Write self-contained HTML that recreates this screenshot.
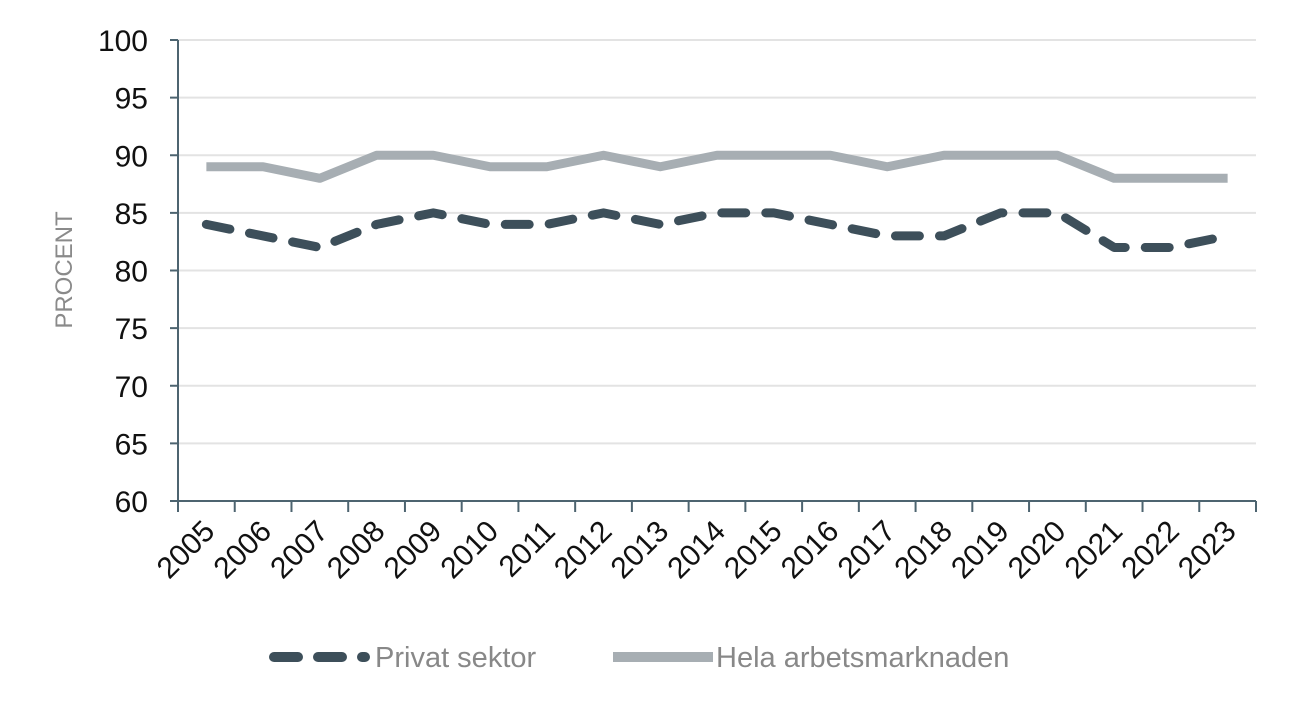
<!DOCTYPE html>
<html><head><meta charset="utf-8"><style>
body{margin:0;background:#fff;}
svg{display:block;font-family:"Liberation Sans",sans-serif;}
</style></head><body>
<svg id="chart" width="1296" height="708"></svg>
<script>
const years=["2005","2006","2007","2008","2009","2010","2011","2012","2013","2014","2015","2016","2017","2018","2019","2020","2021","2022","2023"];
const privat=[84,83,82,84,85,84,84,85,84,85,85,84,83,83,85,85,82,82,83];
const hela=[89,89,88,90,90,89,89,90,89,90,90,90,89,90,90,90,88,88,88];
const yTicks=[60,65,70,75,80,85,90,95,100];
const NS="http://www.w3.org/2000/svg";
const svg=document.getElementById('chart');
const L=178,R=1256,T=40,B=501;
const bw=(R-L)/years.length;
const x=i=>L+bw*(i+0.5);
const y=v=>B-(v-60)/40*(B-T);
function mk(t,a,p){const e=document.createElementNS(NS,t);for(const k in a)e.setAttribute(k,a[k]);(p||svg).appendChild(e);return e;}
yTicks.forEach(v=>{
 if(v>60){const g=mk('line',{x1:L,x2:R,y1:y(v),y2:y(v),stroke:'#e3e3e3','stroke-width':2});
 
 }
 const tk=mk('line',{x1:L-8,x2:L,y1:y(v),y2:y(v),stroke:'#4d6470','stroke-width':2});
 
 
 const t=mk('text',{x:L-30,y:y(v)+11,'text-anchor':'end','font-size':30,fill:'#111'});t.textContent=v;
 
 
});
const ax=mk('line',{x1:L,x2:L,y1:T,y2:B,stroke:'#4d6470','stroke-width':2});


const xa=mk('line',{x1:L,x2:R,y1:B,y2:B,stroke:'#4d6470','stroke-width':2});


for(let i=0;i<=years.length;i++){const tk=mk('line',{x1:L+bw*i,x2:L+bw*i,y1:B,y2:B+11,stroke:'#4d6470','stroke-width':2});
 
 }
years.forEach((yr,i)=>{const px=x(i)+10,py=B+32;
 const t=mk('text',{x:px,y:py,'text-anchor':'end','font-size':30,fill:'#111',transform:`rotate(-45 ${px} ${py})`});t.textContent=yr;
 
 });
const yt=mk('text',{x:72,y:270,'text-anchor':'middle','font-size':24,fill:'#8a8a8a',transform:'rotate(-90 72 270)'});yt.textContent='PROCENT';


const pts=a=>a.map((v,i)=>x(i)+','+y(v)).join(' ');
const l1=mk('polyline',{points:pts(hela),fill:'none',stroke:'#a7aeb3','stroke-width':9,'stroke-linejoin':'round'});


const l2=mk('polyline',{points:pts(privat),fill:'none',stroke:'#3d4f5a','stroke-width':9,'stroke-linecap':'round','stroke-linejoin':'round','stroke-dasharray':'24 20'});


const g1=mk('line',{x1:274,x2:365,y1:657,y2:657,stroke:'#3d4f5a','stroke-width':10,'stroke-linecap':'round','stroke-dasharray':'24 20'});


const t1=mk('text',{x:375,y:667,'font-size':29,fill:'#888'});t1.textContent='Privat sektor';


const g2=mk('line',{x1:613,x2:713,y1:657,y2:657,stroke:'#a7aeb3','stroke-width':10});


const t2=mk('text',{x:716,y:667,'font-size':29,fill:'#888'});t2.textContent='Hela arbetsmarknaden';


</script>
</body></html>
